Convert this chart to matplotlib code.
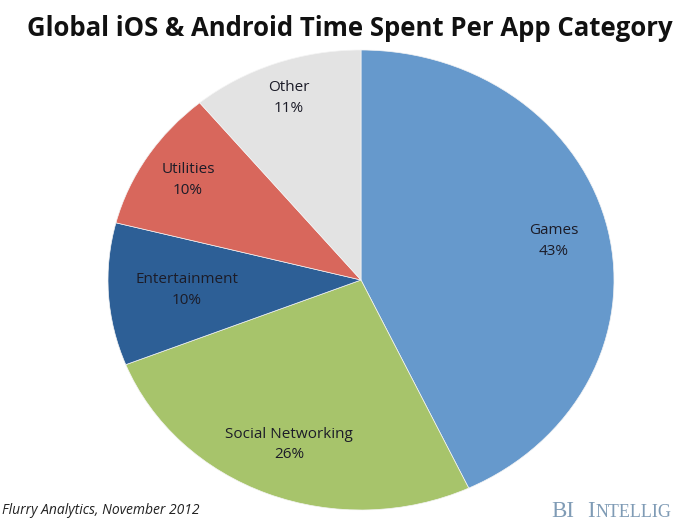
import numpy as np
import matplotlib
matplotlib.use("Agg")
import matplotlib.pyplot as plt

categories = ["Games", "Social Networking", "Entertainment", "Utilities", "Other"]
shares = [43, 26, 10, 10, 11]
colors = ["#6699CC", "#A7C46B", "#2D5F96", "#D8675C", "#E3E3E3"]
label_radius = [0.78, 0.77, 0.69, 0.81, 0.84]

fig = plt.figure(figsize=(7, 5.25), dpi=100)
ax = fig.add_axes([108 / 700, 15 / 525, 506 / 700, 460 / 525])

wedges, _ = ax.pie(shares, colors=colors, startangle=90, counterclock=False,
                   wedgeprops=dict(linewidth=0.5, edgecolor="#f4f4f4"))
for w, c, v, r in zip(wedges, categories, shares, label_radius):
    mid = np.deg2rad((w.theta1 + w.theta2) / 2)
    ax.text(r * np.cos(mid), r * np.sin(mid), f"{c}\n{v}%", ha="center", va="center",
            fontsize=11, family="Open Sans", color="#1c1c28", linespacing=1.5)
ax.set_aspect("auto")
ax.set_xlim(-1, 1)
ax.set_ylim(-1, 1)

fig.text(0.5, 1 - 28 / 525, "Global iOS & Android Time Spent Per App Category",
         ha="center", va="center", fontsize=18.5, fontweight="bold",
         family="Open Sans", color="#111111")
fig.text(200 / 700, 1 - 511 / 525, "Flurry Analytics, November 2012", ha="right",
         va="center", fontsize=10, style="italic", family="Open Sans", color="#222222")

# small-caps style branding
brand = "#7F9BB5"
fig.text(551 / 700, 1 - 517 / 525, "BI", ha="left", va="baseline",
         fontsize=16.5, family="Liberation Serif", color=brand)
fig.text(587 / 700, 1 - 517 / 525, "I", ha="left", va="baseline",
         fontsize=16.5, family="Liberation Serif", color=brand)
fig.text(596 / 700, 1 - 517 / 525, "NTELLIG", ha="left", va="baseline",
         fontsize=13, family="Liberation Serif", color=brand)

fig.savefig("out.png", dpi=100)
